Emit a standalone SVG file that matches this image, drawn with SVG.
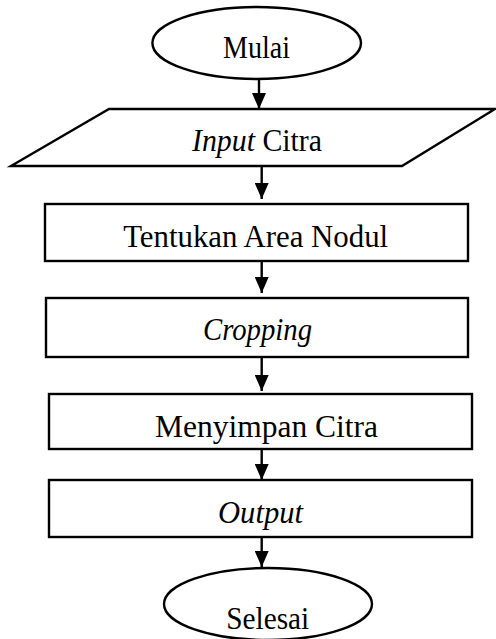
<svg xmlns="http://www.w3.org/2000/svg" width="496" height="639" viewBox="0 0 496 639">
  <style>
    .shape { fill: #ffffff; stroke: #000000; stroke-width: 2.4; }
    .label { font-family: "Liberation Serif", "Times New Roman", serif; font-size: 32px; fill: #000000; text-anchor: middle; }
    .it { font-style: italic; }
    .edge { stroke: #000000; stroke-width: 2.4; fill: none; marker-end: url(#arrow); }
  </style>
  <defs>
    <marker id="arrow" markerWidth="16" markerHeight="14" refX="16" refY="7" orient="auto" markerUnits="userSpaceOnUse">
      <path d="M0,0 L16,7 L0,14 Z" fill="#000000"/>
    </marker>
  </defs>
  <rect width="496" height="639" fill="#ffffff"/>

  <!-- flow connectors -->
  <g id="connectors">
    <line class="edge" x1="259" y1="79" x2="259" y2="109"/>
    <line class="edge" x1="261.7" y1="166" x2="261.7" y2="199"/>
    <line class="edge" x1="261.7" y1="261" x2="261.7" y2="293"/>
    <line class="edge" x1="261.7" y1="357" x2="261.7" y2="391"/>
    <line class="edge" x1="261.7" y1="449" x2="261.7" y2="480"/>
    <line class="edge" x1="261.7" y1="537" x2="261.7" y2="567"/>
  </g>

  <g id="start">
    <ellipse class="shape" cx="256.7" cy="43" rx="104.3" ry="36"/>
    <text class="label" x="256.5" y="58" textLength="67" lengthAdjust="spacingAndGlyphs">Mulai</text>
  </g>

  <g id="input">
    <polygon class="shape" points="109,109 495,109 402,166 11,166"/>
    <text class="label" x="257" y="151" textLength="130" lengthAdjust="spacingAndGlyphs"><tspan class="it">Input</tspan> Citra</text>
  </g>

  <g id="area">
    <rect class="shape" x="45" y="204" width="423" height="57"/>
    <text class="label" x="255.7" y="247" textLength="265" lengthAdjust="spacingAndGlyphs">Tentukan Area Nodul</text>
  </g>

  <g id="crop">
    <rect class="shape" x="46" y="298" width="422" height="59"/>
    <text class="label it" x="257.5" y="340" textLength="109" lengthAdjust="spacingAndGlyphs">Cropping</text>
  </g>

  <g id="save">
    <rect class="shape" x="49" y="394" width="423" height="55"/>
    <text class="label" x="266.5" y="437" textLength="223" lengthAdjust="spacingAndGlyphs">Menyimpan Citra</text>
  </g>

  <g id="output">
    <rect class="shape" x="49" y="480" width="423" height="57"/>
    <text class="label it" x="260.5" y="523" textLength="85" lengthAdjust="spacingAndGlyphs">Output</text>
  </g>

  <g id="end">
    <ellipse class="shape" cx="268" cy="604" rx="104" ry="36"/>
    <text class="label" x="267.7" y="629" textLength="83" lengthAdjust="spacingAndGlyphs">Selesai</text>
  </g>
</svg>
